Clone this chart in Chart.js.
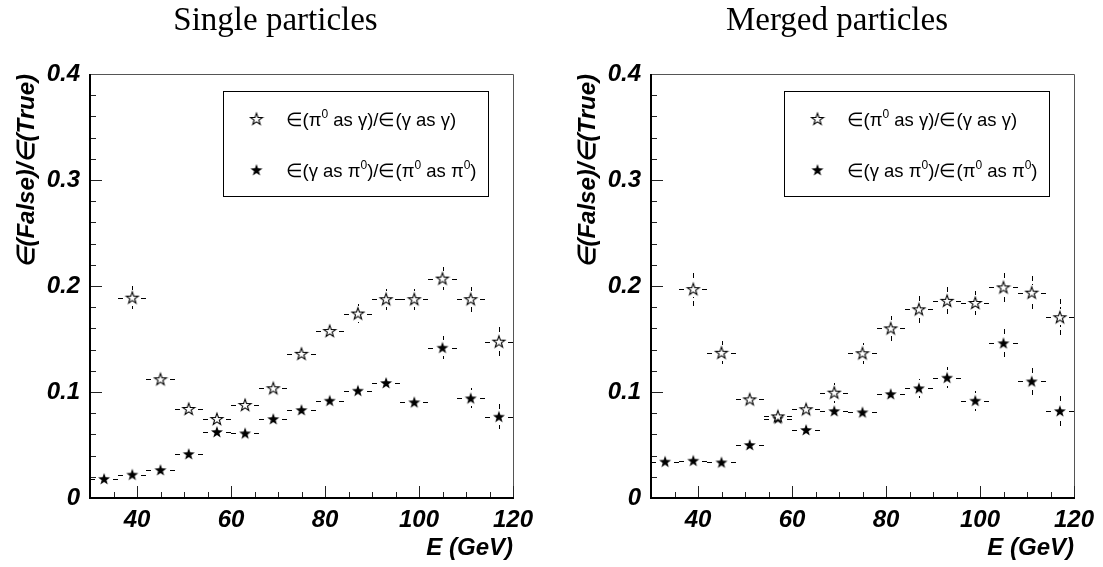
<!DOCTYPE html>
<html>
<head>
<meta charset="utf-8">
<script src="https://cdn.jsdelivr.net/npm/chart.js@4.4.1/dist/chart.umd.min.js"></script>
<style>
html,body{margin:0;padding:0;background:#fff;overflow:hidden}
#wrap{position:relative;width:1103px;height:567px;background:#fff}
canvas{position:absolute;top:0}
</style>
</head>
<body>
<div id="wrap">
<canvas id="c1" width="551" height="567" style="left:0px"></canvas>
<canvas id="c2" width="532" height="567" style="left:571px"></canvas>
</div>
<script>
// ---------------- data ----------------
const energy = [33, 39, 45, 51, 57, 63, 69, 75, 81, 87, 93, 99, 105, 111, 117];
const binHalfWidth = 3;

const xTickValues = [40, 60, 80, 100, 120];
const yTickValues = [0, 0.1, 0.2, 0.3, 0.4];
const yTickLabels = ['0', '0.1', '0.2', '0.3', '0.4'];

const panelTitles = ['Single particles', 'Merged particles'];
const xAxisTitle = 'E (GeV)';
const yAxisTitle = '\u2208(False)/\u2208(True)';
const seriesNames = ['\u2208(\u03c0\u2070 as \u03b3)/\u2208(\u03b3 as \u03b3)',
                     '\u2208(\u03b3 as \u03c0\u2070)/\u2208(\u03c0\u2070 as \u03c0\u2070)'];
// rich-text versions of the legend entries: [text, isSuperscript]
const legendOpenParts = [['\u2208(\u03c0', 0], ['0', 1], [' as \u03b3)/\u2208(\u03b3 as \u03b3)', 0]];
const legendFullParts = [['\u2208(\u03b3 as \u03c0', 0], ['0', 1], [')/\u2208(\u03c0', 0], ['0', 1], [' as \u03c0', 0], ['0', 1], [')', 0]];

// Single particles
const singlePi0AsGamma    = [null, 0.189, 0.112, 0.084, 0.0745, 0.0877, 0.1035, 0.136, 0.1575, 0.174, 0.1875, 0.1875, 0.207, 0.1875, 0.1475];
const singlePi0AsGammaErr = [null, 0.011, 0.005, 0.005, 0.005, 0.006, 0.006, 0.007, 0.008, 0.009, 0.010, 0.010, 0.011, 0.012, 0.014];
const singleGammaAsPi0    = [0.018, 0.022, 0.0264, 0.0415, 0.0623, 0.061, 0.0745, 0.083, 0.0918, 0.1012, 0.1085, 0.0903, 0.1418, 0.094, 0.0767];
const singleGammaAsPi0Err = [0.003, 0.003, 0.003, 0.004, 0.004, 0.004, 0.005, 0.005, 0.006, 0.006, 0.006, 0.006, 0.0107, 0.0094, 0.012];

// Merged particles
const mergedPi0AsGamma    = [null, 0.197, 0.137, 0.093, 0.077, 0.0837, 0.0994, 0.1365, 0.160, 0.178, 0.186, 0.184, 0.1987, 0.1937, 0.1705];
const mergedPi0AsGammaErr = [null, 0.0157, 0.011, 0.007, 0.005, 0.007, 0.0094, 0.010, 0.0116, 0.0126, 0.0126, 0.0117, 0.014, 0.0154, 0.017];
const mergedGammaAsPi0    = [0.0343, 0.0352, 0.0336, 0.050, 0.075, 0.0642, 0.082, 0.0808, 0.098, 0.1035, 0.1135, 0.0918, 0.146, 0.110, 0.082];
const mergedGammaAsPi0Err = [0.003, 0.003, 0.003, 0.004, 0.005, 0.005, 0.006, 0.006, 0.006, 0.0087, 0.0098, 0.0094, 0.013, 0.0126, 0.014];

// ---------------- markers ----------------
function starCanvas(filled) {
  const c = document.createElement('canvas');
  c.width = 16; c.height = 16;
  const g = c.getContext('2d');
  const R = 6.3, r = R * 0.4, cx = 8, cy = 8.4;
  g.beginPath();
  for (let k = 0; k < 10; k++) {
    const a = -Math.PI / 2 + k * Math.PI / 5;
    const rad = k % 2 === 0 ? R : r;
    const px = cx + rad * Math.cos(a), py = cy + rad * Math.sin(a);
    if (k === 0) g.moveTo(px, py); else g.lineTo(px, py);
  }
  g.closePath();
  if (filled) { g.fillStyle = '#000'; g.fill(); }
  else { g.fillStyle = '#fff'; g.fill(); g.strokeStyle = '#000'; g.lineWidth = 1.1; g.stroke(); }
  return c;
}
const openStar = starCanvas(false);
const fullStar = starCanvas(true);

function toPoints(vals, errs) {
  const pts = [];
  energy.forEach((e, i) => { if (vals[i] !== null) pts.push({x: e, y: vals[i], err: errs[i]}); });
  return pts;
}

// ---------------- plugin: error bars, frame, ticks, legend ----------------
const panelPlugin = {
  id: 'panelDeco',
  beforeDatasetsDraw(chart) {
    const ctx = chart.ctx, xs = chart.scales.x, ys = chart.scales.y;
    const gap = 8;
    ctx.save();
    ctx.strokeStyle = '#000';
    ctx.lineWidth = 1;
    ctx.setLineDash([5, 3]);
    chart.data.datasets.forEach((ds, di) => {
      const meta = chart.getDatasetMeta(di);
      meta.data.forEach((el, i) => {
        const p = ds.data[i];
        const cx = xs.getPixelForValue(p.x), cy = ys.getPixelForValue(p.y);
        const xl = xs.getPixelForValue(p.x - binHalfWidth), xr = xs.getPixelForValue(p.x + binHalfWidth);
        const yt = ys.getPixelForValue(p.y + p.err), yb = ys.getPixelForValue(p.y - p.err);
        const segs = [[xl, cy, cx - gap, cy], [xr, cy, cx + gap, cy], [cx, yt, cx, cy - gap], [cx, yb, cx, cy + gap]];
        segs.forEach(s => {
          const len = Math.hypot(s[2] - s[0], s[3] - s[1]);
          const dir = (s[0] === s[2]) ? Math.sign(s[3] - s[1]) * Math.sign(s[1] - cy) : Math.sign(s[2] - s[0]) * Math.sign(s[0] - cx);
          if (dir >= 0 || len < 1) return;
          ctx.beginPath();
          ctx.moveTo(Math.round(s[0]) + (s[0] === s[2] ? 0.5 : 0), Math.round(s[1]) + (s[1] === s[3] ? 0.5 : 0));
          ctx.lineTo(Math.round(s[2]) + (s[0] === s[2] ? 0.5 : 0), Math.round(s[3]) + (s[1] === s[3] ? 0.5 : 0));
          ctx.stroke();
        });
      });
    });
    ctx.restore();
  },
  afterDraw(chart) {
    const ctx = chart.ctx, xs = chart.scales.x, ys = chart.scales.y, ca = chart.chartArea;
    const L = Math.round(ca.left), R = Math.round(ca.right), T = Math.round(ca.top), B = Math.round(ca.bottom);
    ctx.save();
    ctx.setLineDash([]);
    // top & right frame
    ctx.strokeStyle = '#555'; ctx.lineWidth = 1;
    ctx.beginPath();
    ctx.moveTo(L, T + 0.5); ctx.lineTo(R + 0.5, T + 0.5); ctx.lineTo(R + 0.5, B);
    ctx.stroke();
    // ticks
    ctx.strokeStyle = '#222'; ctx.lineWidth = 1;
    ctx.beginPath();
    for (let v = xs.min + 5; v <= xs.max; v += 5) {
      const px = Math.round(xs.getPixelForValue(v)) + 0.5;
      const major = xTickValues.includes(v);
      ctx.moveTo(px, B); ctx.lineTo(px, B - (major ? 12 : 6));
    }
    for (let k = 1; k < 20; k++) {
      const v = k * 0.02;
      const py = Math.round(ys.getPixelForValue(v)) + 0.5;
      const major = k % 5 === 0;
      ctx.moveTo(L, py); ctx.lineTo(L + (major ? 12 : 6), py);
    }
    ctx.stroke();
    // axes
    ctx.strokeStyle = '#000'; ctx.lineWidth = 2;
    ctx.beginPath();
    ctx.moveTo(L, T); ctx.lineTo(L, B); ctx.lineTo(R + 1, B);
    ctx.stroke();
    // legend box
    const bx = Math.round(ca.left + 132.5) + 0.5, by = Math.round(ca.top + 16.5) + 0.5;
    const bw = 265, bh = 105;
    ctx.strokeStyle = '#000'; ctx.lineWidth = 1;
    ctx.fillStyle = '#fff';
    ctx.fillRect(bx, by, bw, bh);
    ctx.strokeRect(bx, by, bw, bh);
    const rows = [by + 27.5, by + 78.5];
    chart.data.datasets.forEach((ds, di) => {
      const img = ds.pointStyle;
      ctx.drawImage(img, bx + 33 - img.width / 2, rows[di] - img.height / 2);
      let tx = bx + 62;
      const ty = rows[di] + 7;
      ds.legendParts.forEach(([t, sup]) => {
        ctx.font = sup ? "12px 'Liberation Sans', Arial, sans-serif" : "18.5px 'Liberation Sans', Arial, sans-serif";
        ctx.fillStyle = '#000';
        ctx.textBaseline = 'alphabetic';
        ctx.textAlign = 'left';
        ctx.fillText(t, tx, sup ? ty - 8.5 : ty);
        tx += ctx.measureText(t).width;
      });
    });
    ctx.restore();
  }
};

// ---------------- charts ----------------
const axisFont = {family: "'Liberation Sans', Arial, sans-serif", size: 24, style: 'italic', weight: 'bold'};

function buildChart(id, title, openVals, openErr, fullVals, fullErr, geom) {
  return new Chart(document.getElementById(id), {
    type: 'scatter',
    data: {
      datasets: [
        {label: seriesNames[0], legendParts: legendOpenParts, data: toPoints(openVals, openErr),
         pointStyle: openStar, showLine: false, clip: false},
        {label: seriesNames[1], legendParts: legendFullParts, data: toPoints(fullVals, fullErr),
         pointStyle: fullStar, showLine: false, clip: false}
      ]
    },
    options: {
      responsive: false,
      animation: false,
      devicePixelRatio: 1,
      events: [],
      layout: {padding: 0},
      plugins: {
        legend: {display: false},
        tooltip: {enabled: false},
        title: {
          display: true, text: title, color: '#000',
          font: {family: "'Liberation Serif', 'Times New Roman', serif", size: 33, weight: 'normal', lineHeight: 1},
          padding: {top: 4.5, bottom: 36.5}
        }
      },
      scales: {
        x: {
          type: 'linear', min: 30, max: 120,
          afterBuildTicks: s => { s.ticks = xTickValues.map(v => ({value: v})); },
          afterFit: s => { s.height = 69; },
          grid: {display: false, drawTicks: false},
          border: {display: false},
          ticks: {font: axisFont, color: '#000', padding: 8, maxRotation: 0, autoSkip: false},
          title: {display: true, text: xAxisTitle, align: 'end', color: '#000',
                  font: Object.assign({}, axisFont, {lineHeight: 1}), padding: {top: 0, bottom: 7}}
        },
        y: {
          type: 'linear', position: 'left', min: 0, max: 0.4,
          afterBuildTicks: s => { s.ticks = yTickValues.map(v => ({value: v})); },
          afterFit: s => { s.width = geom.yWidth; },
          grid: {display: false, drawTicks: false},
          border: {display: false},
          ticks: {font: axisFont, color: '#000', padding: 10,
                  callback: (v) => { const i = yTickValues.findIndex(t => Math.abs(t - v) < 1e-9); return i >= 0 ? yTickLabels[i] : ''; }},
          title: {display: true, text: yAxisTitle, align: 'end', color: '#000',
                  font: Object.assign({}, axisFont, {lineHeight: 1}), padding: {top: geom.yTitlePad, bottom: 0}}
        },
        // empty right-hand margin (keeps room for the last x label)
        yMargin: {
          type: 'linear', position: 'right', min: 0, max: 1,
          afterFit: s => { s.width = geom.padRight; },
          grid: {display: false, drawTicks: false},
          border: {display: false},
          ticks: {display: false},
          title: {display: false}
        }
      }
    },
    plugins: [panelPlugin]
  });
}

buildChart('c1', panelTitles[0], singlePi0AsGamma, singlePi0AsGammaErr, singleGammaAsPi0, singleGammaAsPi0Err,
           {yWidth: 90, padRight: 38, yTitlePad: 15});
buildChart('c2', panelTitles[1], mergedPi0AsGamma, mergedPi0AsGammaErr, mergedGammaAsPi0, mergedGammaAsPi0Err,
           {yWidth: 80, padRight: 29, yTitlePad: 5});
</script>
</body>
</html>
